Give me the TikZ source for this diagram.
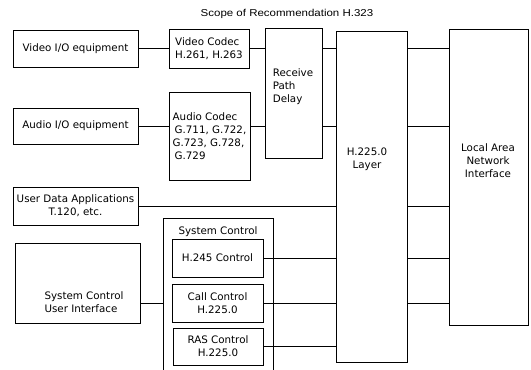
\documentclass[tikz,border=0pt]{standalone}
\usepackage{fontspec}
\setmainfont{DejaVu Sans}
\newfontfamily\titlefont{Liberation Sans}
\begin{document}
\begin{tikzpicture}[x=1pt,y=-1pt,
  every node/.style={font=\fontsize{10.3}{13}\selectfont},
  box/.style={draw,line width=0.8pt,inner sep=1pt,align=center},
  lbl/.style={inner sep=0pt,align=left},
  conn/.style={line width=0.8pt}]
\useasboundingbox (0,0) rectangle (531,370);
\node[inner sep=0pt,font=\fontsize{10}{12}\titlefont] (title) at (287,14) {\scalebox{1.15}[1]{Scope of Recommendation H.323}};
% boxes
\node[box,minimum width=125pt,minimum height=37pt] (vio) at (75.5,48.5) {Video I/O equipment};
\node[box,minimum width=80pt,minimum height=39pt,align=left] (vcodec) at (209,48.5) {Video Codec\\H.261, H.263};
\node[box,minimum width=125pt,minimum height=36pt] (aio) at (75.5,126) {Audio I/O equipment};
\node[box,minimum width=81pt,minimum height=88pt,align=left] (acodec) at (209.5,136) {Audio Codec\\\hspace{2pt}G.711, G.722,\\G.723, G.728,\\\hspace{2pt}G.729};
\node[box,minimum width=57pt,minimum height=130pt] (rpd) at (293.5,93) {};
\node[lbl] (rpdl) at (293,87) {Receive\\Path\\Delay};
\node[box,minimum width=71pt,minimum height=331pt] (h225) at (371.5,196.5) {};
\node[lbl,align=center] (h225l) at (367,159) {H.225.0\\Layer};
\node[box,minimum width=79pt,minimum height=296pt] (lan) at (488.5,177) {};
\node[lbl,align=center] (lanl) at (488,161) {Local Area\\Network\\Interface};
\node[box,minimum width=125pt,minimum height=38pt] (uda) at (75.5,206) {User Data Applications\\T.120, etc.};
\coordinate (sysTL) at (163,218);
\coordinate (sysTR) at (273,218);
\coordinate (sysBL) at (163,371);
\coordinate (sysBR) at (273,371);
\draw[conn] (sysBL) -- (sysTL) -- (sysTR) -- (sysBR);
\node[lbl] (sysl) at (218,232) {System Control};
\node[box,minimum width=91pt,minimum height=38pt] (h245) at (217.5,258) {H.245 Control};
\node[box,minimum width=91pt,minimum height=38pt] (callc) at (217.5,303) {Call Control\\H.225.0};
\node[box,minimum width=90pt,minimum height=37pt] (ras) at (218,346.5) {RAS Control\\H.225.0};
\node[box,minimum width=125pt,minimum height=80pt] (scui) at (77.5,283) {};
\node[lbl] (scuil) at (84,302) {System Control\\User Interface};
% connectors
\draw[conn] (vio.east) -- (vio.east -| vcodec.west);
\draw[conn] (vcodec.east) -- (vcodec.east -| rpd.west);
\draw[conn] (rpd.east |- vcodec.east) -- (h225.west |- vcodec.east);
\draw[conn] (h225.east |- vcodec.east) -- (lan.west |- vcodec.east);
\draw[conn] (aio.east) -- (aio.east -| acodec.west);
\draw[conn] (acodec.east |- aio.east) -- (rpd.west |- aio.east);
\draw[conn] (rpd.east |- aio.east) -- (h225.west |- aio.east);
\draw[conn] (h225.east |- aio.east) -- (lan.west |- aio.east);
\draw[conn] (uda.east) -- (uda.east -| h225.west);
\draw[conn] (h225.east |- uda.east) -- (lan.west |- uda.east);
\draw[conn] (h245.east) -- (h245.east -| h225.west);
\draw[conn] (h225.east |- h245.east) -- (lan.west |- h245.east);
\draw[conn] (callc.east) -- (callc.east -| h225.west);
\draw[conn] (h225.east |- callc.east) -- (lan.west |- callc.east);
\draw[conn] (scui.east |- callc.east) -- (sysTL |- callc.east);
\draw[conn] (ras.east) -- (ras.east -| h225.west);
\end{tikzpicture}
\end{document}
